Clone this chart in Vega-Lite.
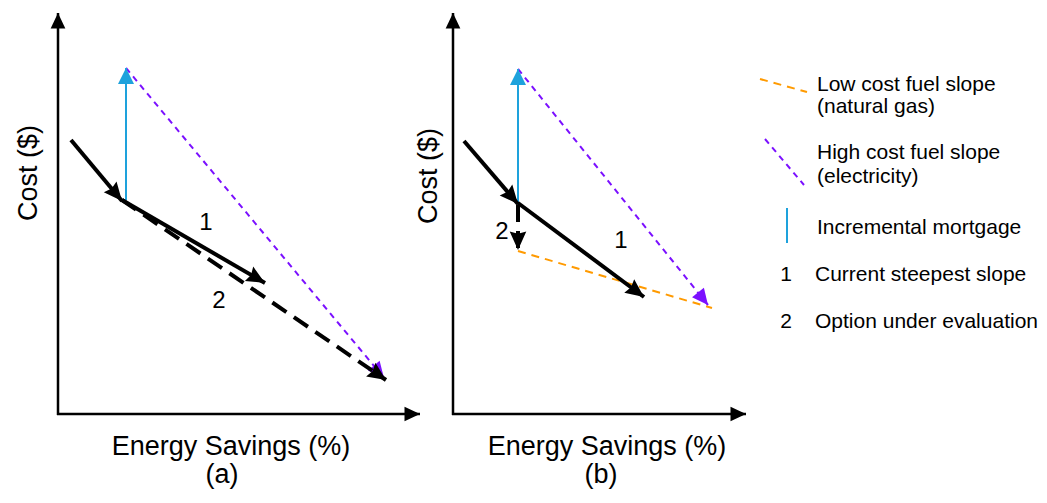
{
  "$schema": "https://vega.github.io/schema/vega-lite/v6.json",
  "width": 1047,
  "height": 503,
  "padding": 0,
  "autosize": {"type": "fit", "contains": "padding"},
  "background": "white",
  "config": {"view": {"stroke": null}, "text": {"font": "Liberation Sans", "color": "black"}},
  "datasets": {
    "segs": [
      {"panel": "a", "kind": "axis", "x": 58, "y": 415, "x2": 58, "y2": 13, "arrow": true},
      {"panel": "a", "kind": "axis", "x": 57, "y": 414, "x2": 420, "y2": 414, "arrow": true},
      {"panel": "a", "kind": "steep", "x": 71, "y": 140, "x2": 122, "y2": 201, "arrow": true},
      {"panel": "a", "kind": "steep", "x": 122, "y": 200, "x2": 265, "y2": 283, "arrow": true},
      {"panel": "a", "kind": "option", "x": 122, "y": 200, "x2": 386, "y2": 380, "arrow": true},
      {"panel": "a", "kind": "mortgage", "x": 126, "y": 200, "x2": 126, "y2": 68, "arrow": true},
      {"panel": "a", "kind": "highcost", "x": 126, "y": 68, "x2": 384, "y2": 378, "arrow": true},
      {"panel": "b", "kind": "axis", "x": 453, "y": 415, "x2": 453, "y2": 13, "arrow": true},
      {"panel": "b", "kind": "axis", "x": 452, "y": 414, "x2": 746, "y2": 414, "arrow": true},
      {"panel": "b", "kind": "steep", "x": 464, "y": 141, "x2": 518, "y2": 204, "arrow": true},
      {"panel": "b", "kind": "steep", "x": 518, "y": 203, "x2": 644, "y2": 297, "arrow": true},
      {"panel": "b", "kind": "option", "x": 518, "y": 205, "x2": 518, "y2": 250, "arrow": true},
      {"panel": "b", "kind": "mortgage", "x": 518, "y": 203, "x2": 518, "y2": 69, "arrow": true},
      {"panel": "b", "kind": "highcost", "x": 518, "y": 69, "x2": 708, "y2": 305, "arrow": true},
      {"panel": "b", "kind": "lowcost", "x": 518, "y": 251, "x2": 712, "y2": 308, "arrow": false},
      {"panel": "legend", "kind": "lowcost", "x": 760, "y": 79, "x2": 807, "y2": 92, "arrow": false},
      {"panel": "legend", "kind": "highcost", "x": 765, "y": 139, "x2": 804, "y2": 185, "arrow": false},
      {"panel": "legend", "kind": "mortgage", "x": 787, "y": 208, "x2": 787, "y2": 243, "arrow": false}
    ],
    "labels": [
      {"text": "Cost ($)", "x": 37, "y": 173, "role": "vtitle"},
      {"text": "Cost ($)", "x": 437, "y": 176, "role": "vtitle"},
      {"text": "Energy Savings (%)", "x": 231, "y": 455, "role": "title"},
      {"text": "Energy Savings (%)", "x": 607, "y": 455, "role": "title"},
      {"text": "(a)", "x": 222, "y": 483, "role": "title"},
      {"text": "(b)", "x": 601, "y": 483, "role": "title"},
      {"text": "1", "x": 206, "y": 230, "role": "num"},
      {"text": "2", "x": 219, "y": 308, "role": "num"},
      {"text": "2", "x": 502, "y": 239, "role": "num"},
      {"text": "1", "x": 621, "y": 248, "role": "num"},
      {"text": "Low cost fuel slope", "x": 817, "y": 91, "role": "legend"},
      {"text": "(natural gas)", "x": 817, "y": 113, "role": "legend"},
      {"text": "High cost fuel slope", "x": 817, "y": 159, "role": "legend"},
      {"text": "(electricity)", "x": 817, "y": 183, "role": "legend"},
      {"text": "Incremental mortgage", "x": 817, "y": 234, "role": "legend"},
      {"text": "Current steepest slope", "x": 815, "y": 281, "role": "legend"},
      {"text": "Option under evaluation", "x": 815, "y": 328, "role": "legend"},
      {"text": "1", "x": 786, "y": 281, "role": "legendnum"},
      {"text": "2", "x": 786, "y": 328, "role": "legendnum"}
    ]
  },
  "encoding": {
    "x": {"field": "x", "type": "quantitative", "scale": {"domain": [0, 1047], "nice": false, "zero": false}, "axis": null},
    "y": {"field": "y", "type": "quantitative", "scale": {"domain": [0, 503], "nice": false, "zero": false, "reverse": true}, "axis": null}
  },
  "layer": [
    {
      "data": {"name": "segs"},
      "transform": [{"filter": "datum.kind == 'axis'"}],
      "mark": {"type": "rule", "color": "black", "strokeWidth": 2.5},
      "encoding": {"x2": {"field": "x2"}, "y2": {"field": "y2"}}
    },
    {
      "data": {"name": "segs"},
      "transform": [{"filter": "datum.kind == 'lowcost'"}],
      "mark": {"type": "rule", "color": "#ff9a00", "strokeWidth": 2, "strokeDash": [8, 6]},
      "encoding": {"x2": {"field": "x2"}, "y2": {"field": "y2"}}
    },
    {
      "data": {"name": "segs"},
      "transform": [{"filter": "datum.kind == 'highcost'"}],
      "mark": {"type": "rule", "color": "#7b10ff", "strokeWidth": 2, "strokeDash": [6, 5]},
      "encoding": {"x2": {"field": "x2"}, "y2": {"field": "y2"}}
    },
    {
      "data": {"name": "segs"},
      "transform": [{"filter": "datum.kind == 'mortgage'"}],
      "mark": {"type": "rule", "color": "#1ea2dc", "strokeWidth": 2},
      "encoding": {"x2": {"field": "x2"}, "y2": {"field": "y2"}}
    },
    {
      "data": {"name": "segs"},
      "transform": [
        {"filter": "datum.arrow && (datum.kind == 'highcost')"},
        {"calculate": "atan2(datum.x2 - datum.x, datum.y - datum.y2) * 180 / PI", "as": "heading"}
      ],
      "mark": {"type": "point", "filled": true, "color": "#7b10ff", "opacity": 1, "strokeWidth": 0, "shape": "M0,0L-0.95,2L0.95,2Z", "size": 256},
      "encoding": {
        "x": {"field": "x2", "type": "quantitative"},
        "y": {"field": "y2", "type": "quantitative"},
        "angle": {"field": "heading", "type": "quantitative", "scale": null}
      }
    },
    {
      "data": {"name": "segs"},
      "transform": [
        {"filter": "datum.arrow && (datum.kind == 'mortgage')"},
        {"calculate": "atan2(datum.x2 - datum.x, datum.y - datum.y2) * 180 / PI", "as": "heading"}
      ],
      "mark": {"type": "point", "filled": true, "color": "#1ea2dc", "opacity": 1, "strokeWidth": 0, "shape": "M0,0L-1,2L1,2Z", "size": 256},
      "encoding": {
        "x": {"field": "x2", "type": "quantitative"},
        "y": {"field": "y2", "type": "quantitative"},
        "angle": {"field": "heading", "type": "quantitative", "scale": null}
      }
    },
    {
      "data": {"name": "segs"},
      "transform": [{"filter": "datum.kind == 'option'"}],
      "mark": {"type": "rule", "color": "black", "strokeWidth": 4, "strokeDash": [17, 9]},
      "encoding": {"x2": {"field": "x2"}, "y2": {"field": "y2"}}
    },
    {
      "data": {"name": "segs"},
      "transform": [{"filter": "datum.kind == 'steep'"}],
      "mark": {"type": "rule", "color": "black", "strokeWidth": 4},
      "encoding": {"x2": {"field": "x2"}, "y2": {"field": "y2"}}
    },
    {
      "data": {"name": "segs"},
      "transform": [
        {"filter": "datum.arrow && (datum.kind == 'steep' || datum.kind == 'option')"},
        {"calculate": "atan2(datum.x2 - datum.x, datum.y - datum.y2) * 180 / PI", "as": "heading"}
      ],
      "mark": {"type": "point", "filled": true, "color": "black", "opacity": 1, "strokeWidth": 0, "shape": "M0,0L-0.9,2L0,1.75L0.9,2Z", "size": 340},
      "encoding": {
        "x": {"field": "x2", "type": "quantitative"},
        "y": {"field": "y2", "type": "quantitative"},
        "angle": {"field": "heading", "type": "quantitative", "scale": null}
      }
    },
    {
      "data": {"name": "segs"},
      "transform": [
        {"filter": "datum.arrow && datum.kind == 'axis'"},
        {"calculate": "atan2(datum.x2 - datum.x, datum.y - datum.y2) * 180 / PI", "as": "heading"}
      ],
      "mark": {"type": "point", "filled": true, "color": "black", "opacity": 1, "strokeWidth": 0, "shape": "M0,0L-0.95,2L0.95,2Z", "size": 240},
      "encoding": {
        "x": {"field": "x2", "type": "quantitative"},
        "y": {"field": "y2", "type": "quantitative"},
        "angle": {"field": "heading", "type": "quantitative", "scale": null}
      }
    },
    {
      "data": {"name": "labels"},
      "transform": [{"filter": "datum.role == 'title'"}],
      "mark": {"type": "text", "fontSize": 27, "align": "center", "baseline": "alphabetic"},
      "encoding": {"text": {"field": "text"}}
    },
    {
      "data": {"name": "labels"},
      "transform": [{"filter": "datum.role == 'vtitle'"}],
      "mark": {"type": "text", "fontSize": 27, "align": "center", "baseline": "alphabetic", "angle": 270},
      "encoding": {"text": {"field": "text"}}
    },
    {
      "data": {"name": "labels"},
      "transform": [{"filter": "datum.role == 'num'"}],
      "mark": {"type": "text", "fontSize": 24, "align": "center", "baseline": "alphabetic"},
      "encoding": {"text": {"field": "text"}}
    },
    {
      "data": {"name": "labels"},
      "transform": [{"filter": "datum.role == 'legend'"}],
      "mark": {"type": "text", "fontSize": 21, "align": "left", "baseline": "alphabetic"},
      "encoding": {"text": {"field": "text"}}
    },
    {
      "data": {"name": "labels"},
      "transform": [{"filter": "datum.role == 'legendnum'"}],
      "mark": {"type": "text", "fontSize": 21, "align": "center", "baseline": "alphabetic"},
      "encoding": {"text": {"field": "text"}}
    }
  ]
}
